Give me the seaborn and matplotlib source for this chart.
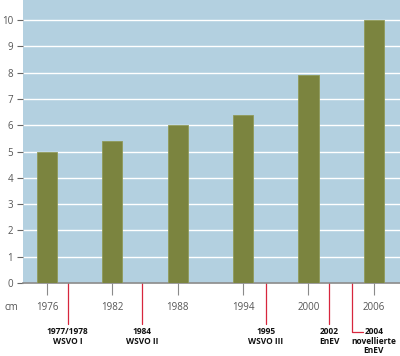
import matplotlib
matplotlib.use("Agg")
import matplotlib.pyplot as plt
import seaborn as sns

years = [1976, 1982, 1988, 1994, 2000, 2006]
thickness_cm = [5.0, 5.4, 6.0, 6.4, 7.9, 10.0]

law_years = [1977.9, 1984.7, 1996.1, 2001.9, 2004.0]
law_labels = ["1977/1978\nWSVO I", "1984\nWSVO II", "1995\nWSVO III",
              "2002\nEnEV", "2004\nnovellierte\nEnEV"]

sns.set_style("white")
plt.rcParams["font.family"] = ["Open Sans", "DejaVu Sans"]

fig = plt.figure(figsize=(4.0, 3.56), dpi=100)
ax = fig.add_axes([0.0575, 0.205, 0.9425, 0.795])
ax.set_facecolor("#b3d0e0")

sns.barplot(x=years, y=thickness_cm, native_scale=True, width=0.31,
            color="#7b843f", edgecolor="#8f9a5a", linewidth=0.6,
            saturation=1, ax=ax, zorder=3)

ax.set_xlim(1973.8, 2008.4)
ax.set_ylim(0, 10.76)
ax.set_yticks(range(0, 11))
ax.set_xticks(years)
ax.set_xticklabels([str(y) for y in years])
ax.grid(axis="y", color="white", linewidth=1.0, zorder=1)
ax.grid(axis="x", visible=False)
ax.set_axisbelow(True)

for s in ["top", "right", "left"]:
    ax.spines[s].set_visible(False)
ax.spines["bottom"].set_color("#8a8a8a")
ax.spines["bottom"].set_linewidth(1.2)

ax.tick_params(axis="y", length=4, width=0.8, color="#666666", pad=3,
               labelsize=7, labelcolor="#555555", left=True)
ax.tick_params(axis="x", length=8.5, width=0.8, color="#8a8a8a", pad=5,
               labelsize=7, labelcolor="#555555", bottom=True)

ax.text(-0.05, -0.087, "cm", transform=ax.transAxes, fontsize=7,
        color="#555555", ha="left", va="center")

# red markers for regulations
px = 1 / 26.3
for i, (yr, lab) in enumerate(zip(law_years, law_labels)):
    if i == 4:
        ax.plot([yr, yr, yr + 1.0], [0, -49 * px, -49 * px], color="#d7263d",
                linewidth=0.9, clip_on=False)
        ax.text(yr + 2.0, -44 * px, lab, fontsize=6, fontweight="bold",
                ha="center", va="top", color="#111111", linespacing=1.1)
    else:
        ax.plot([yr, yr], [0, -41 * px], color="#d7263d", linewidth=0.9,
                clip_on=False)
        ax.text(yr, -44 * px, lab, fontsize=6, fontweight="bold",
                ha="center", va="top", color="#111111", linespacing=1.1)

ax.set_xlabel("")
ax.set_ylabel("")
fig.savefig("out.png", dpi=100)
